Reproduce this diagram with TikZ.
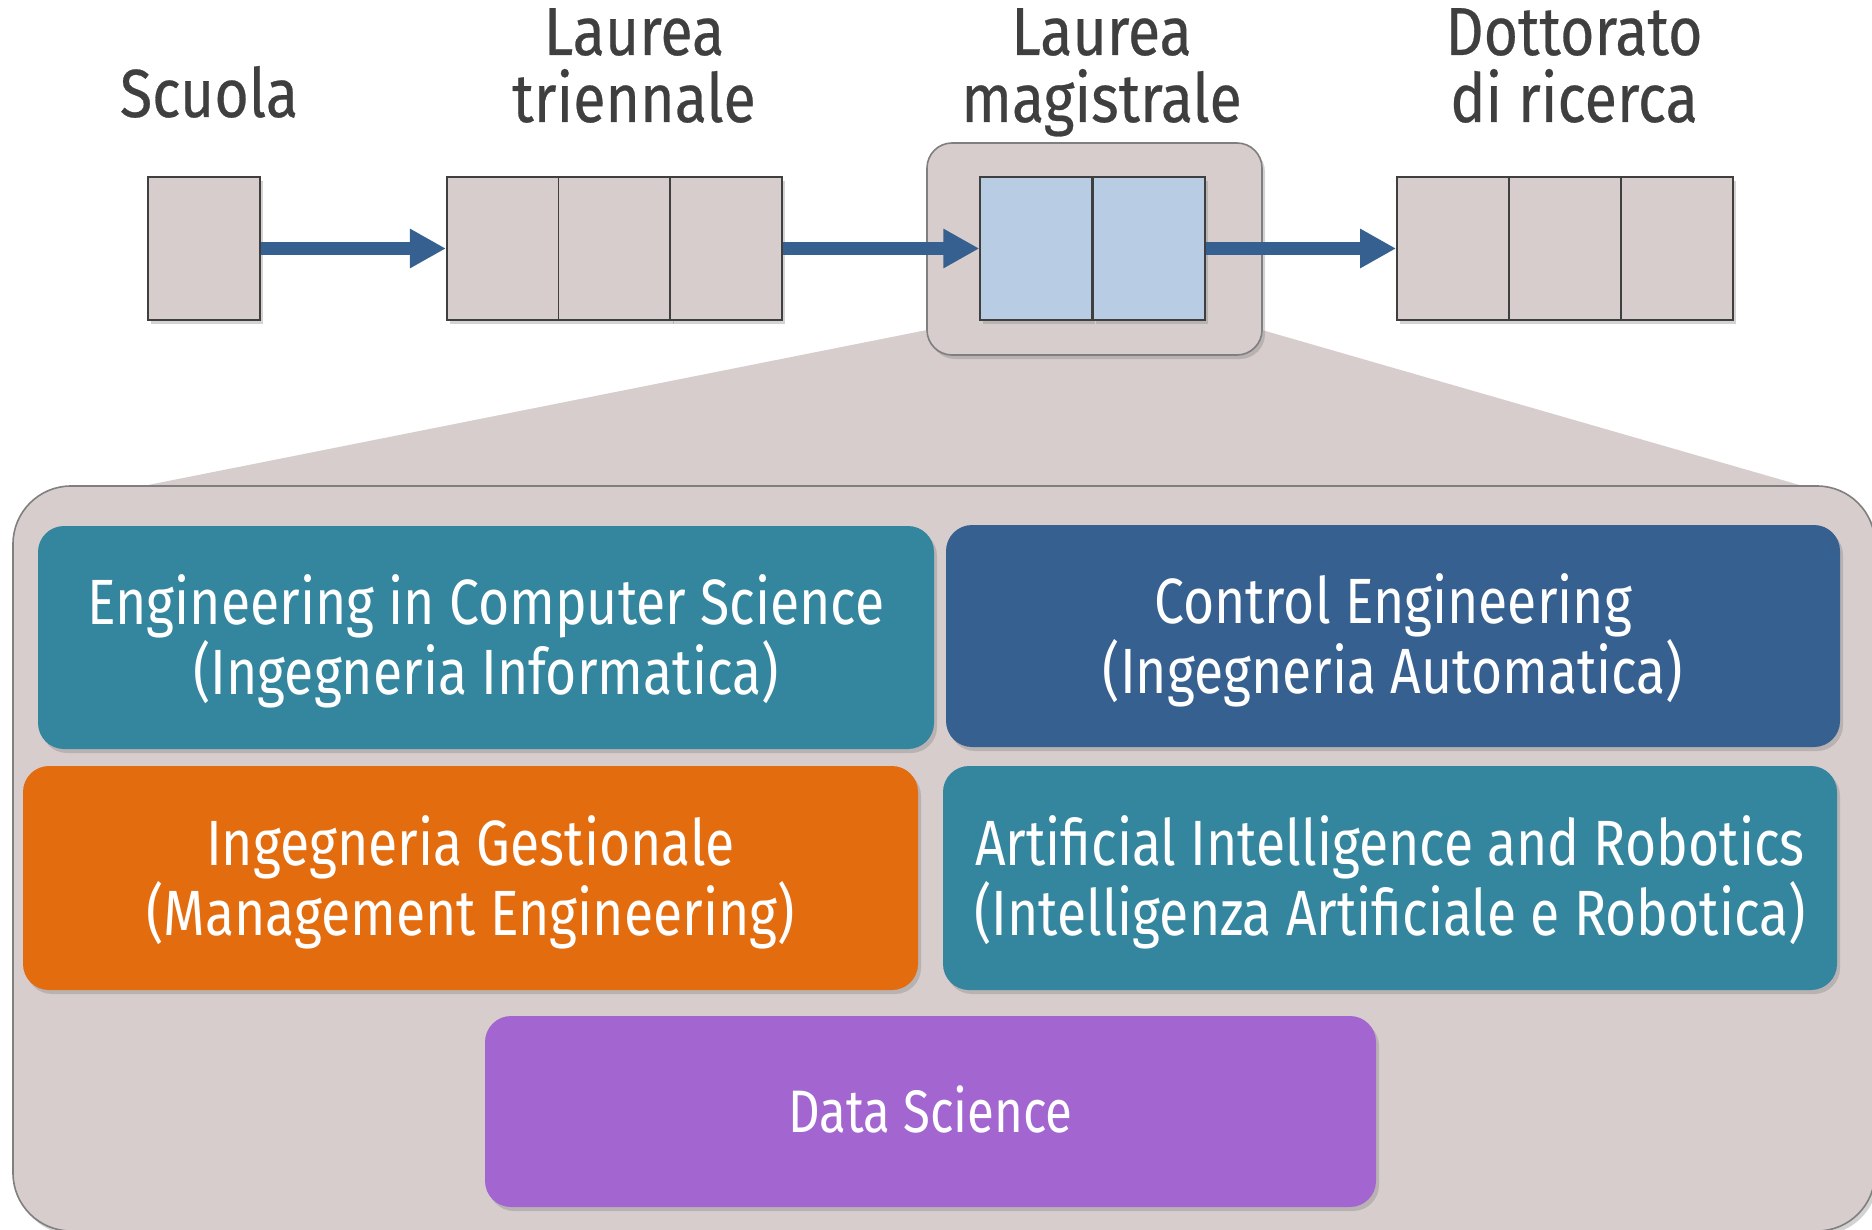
\documentclass[tikz,border=0pt]{standalone}
\usepackage{fontspec}
\usetikzlibrary{arrows.meta,shadows}
\newfontfamily\cf{Fira Sans}[FakeStretch=0.836]
\newfontfamily\cfs{Fira Sans}[FakeStretch=0.82]
\newfontfamily\cfl{Fira Sans}[FakeStretch=0.87,FakeBold=0.4]
\definecolor{panelfill}{HTML}{D8CDCD}
\definecolor{panelline}{HTML}{7F7F7F}
\definecolor{cellline}{HTML}{3F3F3F}
\definecolor{lightblue}{HTML}{B8CCE4}
\definecolor{arrowblue}{HTML}{36608F}
\definecolor{tealc}{HTML}{33869E}
\definecolor{dbluec}{HTML}{36608F}
\definecolor{orangec}{HTML}{E36C0E}
\definecolor{purplec}{HTML}{A366D1}
\definecolor{labelc}{HTML}{3F3F3F}
\tikzset{
  softshadow/.style={drop shadow={opacity=0.35,shadow xshift=1.5pt,shadow yshift=-2pt}},
  cell/.style={rectangle,draw=cellline,line width=0.9pt,fill=panelfill,minimum width=56pt,minimum height=71.5pt,inner sep=0pt,softshadow},
  bluecell/.style={cell,fill=lightblue},
  flow/.style={draw=arrowblue,line width=6.5pt,-{Triangle[length=18pt,width=18.5pt]}},
  toplabel/.style={font=\cfl\fontsize{34}{33.5}\selectfont,text=labelc,align=center,inner sep=0pt},
  progbox/.style={rectangle,rounded corners=13pt,inner sep=0pt,text=white,align=center,softshadow},
  prog/.style={progbox,font=\cf\fontsize{32}{35}\selectfont,text height=57pt,text depth=0pt},
  progsmall/.style={progbox,font=\cfs\fontsize{30}{35}\selectfont,text height=20.7pt,text depth=0pt},
  panel/.style={fill=panelfill,draw=panelline,line width=0.8pt},
}
\begin{document}
\begin{tikzpicture}[x=0.5pt,y=-0.5pt]
\useasboundingbox (0,0) rectangle (1872,1230);
% zoom trapezoid and panel
\fill[panelfill] (927,330) -- (143,486) -- (1803,486) -- (1262,330) -- cycle;
\draw[panel,rounded corners=29pt,softshadow] (13,486) rectangle (1875,1231);
% magistrale frame
\node[panel,rectangle,rounded corners=12.5pt,minimum width=167.5pt,minimum height=106pt,inner sep=0pt,softshadow] (magframe) at (1094.5,249) {};
% cells
\node[cell] (s1) at (204,248.5) {};
\node[cell] (t1) at (502.8,248.5) {};
\node[cell] (t2) at (614.5,248.5) {};
\node[cell] (t3) at (726.2,248.5) {};
\node[bluecell] (m1) at (1036.25,248.5) {};
\node[bluecell] (m2) at (1148.75,248.5) {};
\node[cell] (d1) at (1453,248.5) {};
\node[cell] (d2) at (1565,248.5) {};
\node[cell] (d3) at (1677,248.5) {};
% arrows
\draw[flow] (s1.east) -- (t1.west);
\draw[flow] (t3.east) -- (m1.west);
\draw[flow] (m2.east) -- (d1.west);
% top labels
\node[toplabel,anchor=base] (lscuola) at (209,117) {Scuola};
\node[toplabel,anchor=base] (ltri) at (634,122) {Laurea\\triennale};
\node[toplabel,anchor=base] (lmag) at (1101.5,122) {Laurea\\magistrale};
\node[toplabel,anchor=base] (ldot) at (1574,122) {Dottorato\\di ricerca};
% programmes
\node[prog,fill=tealc,minimum width=448pt,minimum height=111.5pt] (ecs) at (486,637.5) {Engineering in Computer Science\\(Ingegneria Informatica)};
\node[prog,fill=dbluec,minimum width=447pt,minimum height=111pt] (ce) at (1393,636) {Control Engineering\\(Ingegneria Automatica)};
\node[prog,fill=orangec,minimum width=447.5pt,minimum height=112pt] (ig) at (470.5,878) {Ingegneria Gestionale\\(Management Engineering)};
\node[prog,fill=tealc,minimum width=447pt,minimum height=112pt] (air) at (1390,878) {Artificial Intelligence and Robotics\\(Intelligenza Artificiale e Robotica)};
\node[progsmall,fill=purplec,minimum width=445.5pt,minimum height=95.5pt] (ds) at (930.5,1111.5) {Data Science};
\end{tikzpicture}
\end{document}
